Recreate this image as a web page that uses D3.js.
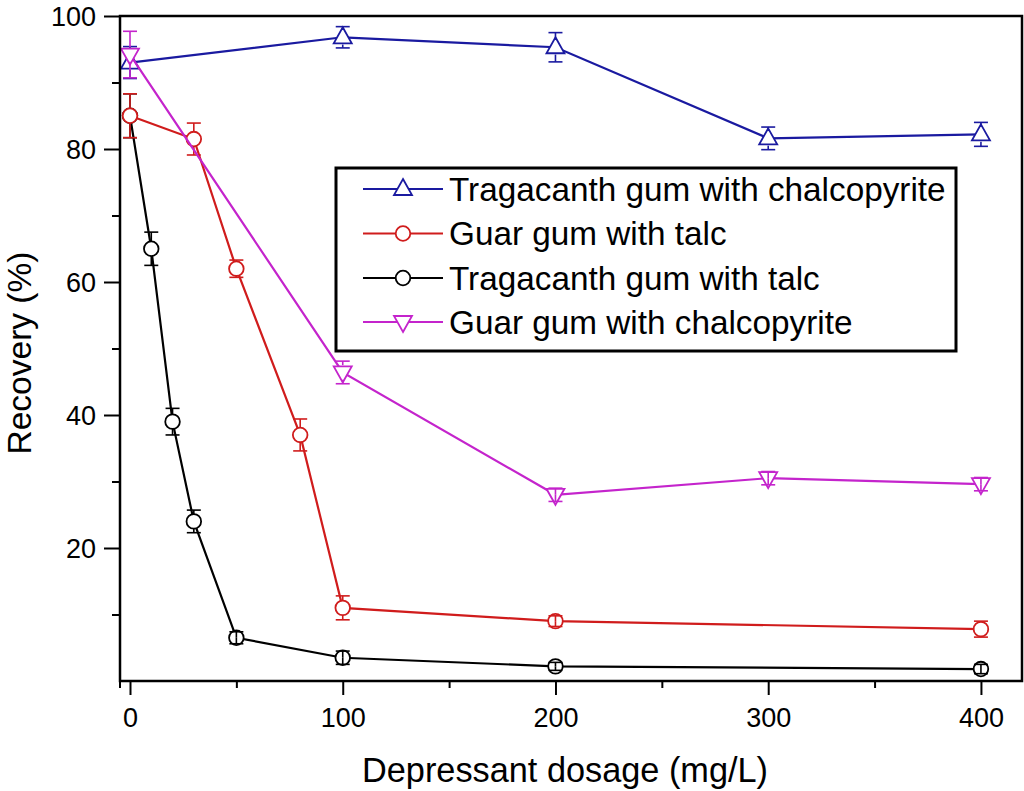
<!DOCTYPE html>
<html>
<head>
<meta charset="utf-8">
<script src="https://cdn.jsdelivr.net/npm/d3@7"></script>
<style>
  html, body { margin: 0; padding: 0; background: #fff; }
  svg { display: block; font-family: "Liberation Sans", Arial, Helvetica, sans-serif; }
</style>
</head>
<body>
<svg id="chart" width="1024" height="791"></svg>
<script>
// ---- data ----
const seriesNames = [
  "Tragacanth gum with chalcopyrite",
  "Guar gum with talc",
  "Tragacanth gum with talc",
  "Guar gum with chalcopyrite"
];
const tragChalcoX = [0, 100, 200, 300, 400];
const tragChalcoY = [93.0, 96.8, 95.3, 81.6, 82.2];
const tragChalcoErr = [2.4, 1.6, 2.2, 1.7, 1.8];

const guarTalcX = [0, 30, 50, 80, 100, 200, 400];
const guarTalcY = [85.0, 81.5, 62.0, 37.0, 11.0, 9.0, 7.8];
const guarTalcErr = [3.3, 2.4, 1.3, 2.4, 1.8, 0.8, 1.2];

const tragTalcX = [0, 10, 20, 30, 50, 100, 200, 400];
const tragTalcY = [85.0, 65.0, 39.0, 24.0, 6.5, 3.5, 2.2, 1.8];
const tragTalcErr = [3.3, 2.5, 2.0, 1.7, 0.9, 1.0, 0.6, 0.7];

const guarChalcoX = [0, 100, 200, 300, 400];
const guarChalcoY = [94.2, 46.4, 28.0, 30.5, 29.6];
const guarChalcoErr = [3.5, 1.7, 1.0, 1.0, 1.0];

const xMajorTicks = [0, 100, 200, 300, 400];
const xMinorTicks = [50, 150, 250, 350];
const yMajorTicks = [20, 40, 60, 80, 100];
const yMinorTicks = [10, 30, 50, 70, 90];

const xTitle = "Depressant dosage (mg/L)";
const yTitle = "Recovery (%)";

// ---- layout ----
const L = 120, R = 1022, T = 16, B = 681;
const svg = d3.select("#chart");
const x = d3.scaleLinear().domain([-4.7, 419.3]).range([L, R]);
const y = d3.scaleLinear().domain([0, 100]).range([B, T]);

const colors = ["#1a1aa0", "#d01c1c", "#000000", "#c424cc"];
const shapes = ["up", "circle", "circle", "down"];

function markerPath(shape) {
  if (shape === "up") return "M0,-10L9,6L-9,6Z";
  if (shape === "down") return "M0,10L9,-6L-9,-6Z";
  return d3.symbol().type(d3.symbolCircle).size(Math.PI * 7.3 * 7.3)();
}

const series = [
  { xs: tragChalcoX, ys: tragChalcoY, es: tragChalcoErr },
  { xs: guarTalcX, ys: guarTalcY, es: guarTalcErr },
  { xs: tragTalcX, ys: tragTalcY, es: tragTalcErr },
  { xs: guarChalcoX, ys: guarChalcoY, es: guarChalcoErr }
].map((s, i) => ({
  name: seriesNames[i], color: colors[i], shape: shapes[i],
  pts: s.xs.map((xv, j) => ({ x: xv, y: s.ys[j], e: s.es[j] }))
}));

// axes
const xMajor = d3.axisBottom(x).tickValues(xMajorTicks).tickSize(14).tickFormat(d3.format("d"));
const xMinor = d3.axisBottom(x).tickValues(xMinorTicks).tickSize(7).tickFormat("");
const yMajor = d3.axisLeft(y).tickValues(yMajorTicks).tickSize(16).tickFormat(d3.format("d"));
const yMinor = d3.axisLeft(y).tickValues(yMinorTicks).tickSize(8).tickFormat("");

function styleAxis(g) {
  g.select(".domain").remove();
  g.selectAll(".tick line").attr("stroke", "#000").attr("stroke-width", 2);
  g.selectAll(".tick text").attr("fill", "#000").style("font-size", "27px")
    .style("font-family", "'Liberation Sans', Arial, sans-serif");
}
const gx = svg.append("g").attr("transform", `translate(0,${B})`).call(xMajor).call(styleAxis);
gx.selectAll(".tick text").attr("y", 46).attr("dy", null);
svg.append("g").attr("transform", `translate(0,${B})`).call(xMinor).call(styleAxis);
const gy = svg.append("g").attr("transform", `translate(${L},0)`).call(yMajor).call(styleAxis);
gy.selectAll(".tick text").attr("x", -24).attr("dy", "0.36em");
svg.append("g").attr("transform", `translate(${L},0)`).call(yMinor).call(styleAxis);

// small extension of left spine below axis
svg.append("line").attr("x1", L).attr("x2", L).attr("y1", B).attr("y2", B + 7)
  .attr("stroke", "#000").attr("stroke-width", 2);

// series
const line = d3.line().x(d => x(d.x)).y(d => y(d.y));
const drawOrder = [2, 1, 0, 3];
const r = 7.3;
drawOrder.forEach(i => {
  const s = series[i];
  const g = svg.append("g");
  g.append("path").datum(s.pts).attr("d", line)
    .attr("fill", "none").attr("stroke", s.color).attr("stroke-width", 2.2);
  // markers
  g.selectAll("path.mk").data(s.pts).enter().append("path").attr("class", "mk")
    .attr("d", markerPath(s.shape))
    .attr("transform", d => `translate(${x(d.x)},${y(d.y)})`)
    .attr("fill", "#fff").attr("stroke", s.color).attr("stroke-width", 1.8);
  // error bars (from symbol edge outward)
  s.pts.forEach(d => {
    const cx = x(d.x), cy = y(d.y);
    const top = y(d.y + d.e), bot = y(d.y - d.e);
    const ep = cy - top;
    const inner = ep > r ? r : 0;
    g.append("line").attr("x1", cx).attr("x2", cx).attr("y1", top).attr("y2", cy - inner)
      .attr("stroke", s.color).attr("stroke-width", 1.6);
    g.append("line").attr("x1", cx).attr("x2", cx).attr("y1", bot).attr("y2", cy + inner)
      .attr("stroke", s.color).attr("stroke-width", 1.6);
    [top, bot].forEach(yy => {
      g.append("line").attr("x1", cx - 7).attr("x2", cx + 7).attr("y1", yy).attr("y2", yy)
        .attr("stroke", s.color).attr("stroke-width", 1.6);
    });
  });
});

// frame
svg.append("rect").attr("x", L).attr("y", T).attr("width", R - L).attr("height", B - T)
  .attr("fill", "none").attr("stroke", "#000").attr("stroke-width", 2.5);

// legend
const lg = svg.append("g");
lg.append("rect").attr("x", 336).attr("y", 168).attr("width", 620).attr("height", 183)
  .attr("fill", "#fff").attr("stroke", "#000").attr("stroke-width", 3);
const rowY = [189, 233.5, 278, 322];
series.forEach((s, i) => {
  const yy = rowY[i];
  lg.append("line").attr("x1", 363).attr("x2", 443).attr("y1", yy).attr("y2", yy)
    .attr("stroke", s.color).attr("stroke-width", 2);
  lg.append("path").attr("d", markerPath(s.shape))
    .attr("transform", `translate(403,${yy})`)
    .attr("fill", "#fff").attr("stroke", s.color).attr("stroke-width", 1.8);
  lg.append("text").attr("x", 449).attr("y", yy + 11.5)
    .style("font-size", "33.3px").attr("fill", "#000").text(s.name);
});

// titles
svg.append("text").attr("x", 565).attr("y", 782).attr("text-anchor", "middle")
  .style("font-size", "34.3px").attr("fill", "#000").text(xTitle);
svg.append("text").attr("transform", "translate(31,353) rotate(-90)").attr("text-anchor", "middle")
  .style("font-size", "33.5px").attr("fill", "#000").text(yTitle);
</script>
</body>
</html>
